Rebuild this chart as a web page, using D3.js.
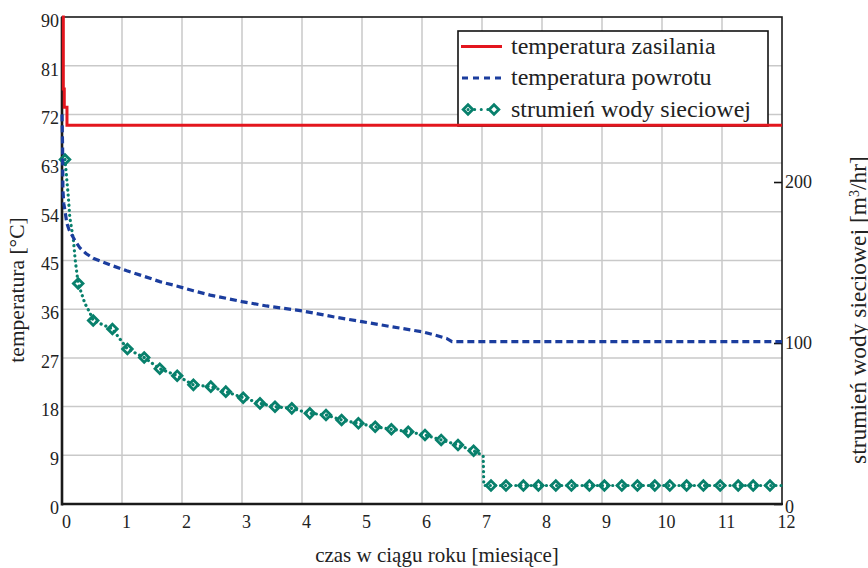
<!DOCTYPE html>
<html>
<head>
<meta charset="utf-8">
<script src="https://cdn.jsdelivr.net/npm/d3@7"></script>
<style>
  html, body { margin: 0; padding: 0; background: #ffffff; }
</style>
</head>
<body>
<svg id="chart" width="868" height="568"></svg>
<script>
// Months of the year (x axis) and the tick values of the three axes
const monthTicks = [0, 1, 2, 3, 4, 5, 6, 7, 8, 9, 10, 11, 12];
const tempTicks = [0, 9, 18, 27, 36, 45, 54, 63, 72, 81, 90];
const flowTicks = [0, 100, 200];

// Supply temperature [°C]
const supplyMonths = [0, 0.022, 0.022, 0.038, 0.038, 0.083, 0.083, 12];
const supplyTemp   = [90, 90, 76.7, 76.7, 73.3, 73.3, 70, 70];

// Return temperature [°C]
const returnMonths = [0, 0.01, 0.015, 0.03, 0.05, 0.08, 0.12, 0.16, 0.22, 0.3, 0.4, 0.52, 0.8,
  1.08, 1.36, 1.63, 1.91, 2.19, 2.47, 2.74, 3.0, 3.41, 4.0, 4.52, 5.0, 5.47, 6.02, 6.22, 6.41, 6.5, 12];
const returnTemp   = [72, 66, 58, 55.5, 54.2, 51.9, 50.6, 49.8, 48.6, 47.3, 46.3, 45.4, 44.2,
  43.1, 42.1, 41.1, 40.3, 39.4, 38.6, 38.0, 37.4, 36.6, 35.7, 34.6, 33.7, 32.8, 31.8, 31.2, 30.6, 30, 30];

// District-heating water flow [m3/hr] – the dotted line
const flowMonths = [0.05, 0.105, 0.13, 0.19, 0.22, 0.27, 0.38, 0.47, 0.52, 0.84, 1.09, 1.37, 1.63,
  1.92, 2.19, 2.48, 2.73, 3.02, 3.3, 3.55, 3.83, 4.13, 4.4, 4.66, 4.94, 5.22, 5.49, 5.77, 6.05,
  6.32, 6.6, 6.86, 7.02, 7.03, 12];
const flowRate   = [214, 191, 178, 164, 151.6, 137, 124.7, 118.4, 114, 108.7, 96.3, 91, 84,
  79.7, 74, 72.9, 69.8, 66, 62.5, 60.4, 59.4, 56.3, 55.3, 52.2, 50.1, 48, 46.4, 44.9, 42.9,
  39.8, 36.6, 33.1, 30, 11.5, 11.5];

// Flow values shown with diamond markers
const markerMonths = [0.05, 0.27, 0.52, 0.84, 1.09, 1.37, 1.63, 1.92, 2.19, 2.48, 2.73, 3.02, 3.3,
  3.55, 3.83, 4.13, 4.4, 4.66, 4.94, 5.22, 5.49, 5.77, 6.05, 6.32, 6.6, 6.86,
  7.15, 7.4, 7.69, 7.94, 8.23, 8.49, 8.79, 9.04, 9.33, 9.59, 9.88, 10.13, 10.41, 10.69,
  10.97, 11.27, 11.52, 11.8];
const markerRate   = [214, 137, 114, 108.7, 96.3, 91, 84, 79.7, 74, 72.9, 69.8, 66, 62.5,
  60.4, 59.4, 56.3, 55.3, 52.2, 50.1, 48, 46.4, 44.9, 42.9, 39.8, 36.6, 33.1,
  11.5, 11.5, 11.5, 11.5, 11.5, 11.5, 11.5, 11.5, 11.5, 11.5, 11.5, 11.5, 11.5, 11.5,
  11.5, 11.5, 11.5, 11.5];

const seriesNames = ["temperatura zasilania", "temperatura powrotu", "strumień wody sieciowej"];

const RED = "#e3161e", BLUE = "#1b3d9e", GREEN = "#08806c";
const FONT = "Liberation Serif";
const INK = "#222";

const svg = d3.select("#chart");
const plot = { left: 62, right: 782, top: 17, bottom: 504 };

const x = d3.scaleLinear().domain([0, 12]).range([plot.left, plot.right]);
const yT = d3.scaleLinear().domain([0, 90]).range([plot.bottom, plot.top]);
const yF = d3.scaleLinear().domain([0, 302.5]).range([plot.bottom, plot.top]);

// grid
const grid = svg.append("g").attr("stroke", "#c9c9c9").attr("stroke-width", 1.5);
grid.selectAll("line.v").data(monthTicks.slice(1, -1)).join("line")
  .attr("x1", d => x(d)).attr("x2", d => x(d))
  .attr("y1", plot.top).attr("y2", plot.bottom);
grid.selectAll("line.h").data(tempTicks.slice(1, -1)).join("line")
  .attr("x1", plot.left).attr("x2", plot.right)
  .attr("y1", d => yT(d)).attr("y2", d => yT(d));

// legend box (drawn under the series)
const lg = { x: 458, y: 31, w: 310, h: 95 };
svg.append("rect").attr("x", lg.x).attr("y", lg.y).attr("width", lg.w).attr("height", lg.h)
  .attr("fill", "#fff").attr("stroke", "#111").attr("stroke-width", 1.6);

// axes
const axL = svg.append("g").attr("transform", `translate(${plot.left},0)`)
  .call(d3.axisLeft(yT).tickValues(tempTicks).tickSize(0).tickPadding(3));
axL.selectAll("text").attr("dy", "0.52em");

const axB = svg.append("g").attr("transform", `translate(0,${plot.bottom})`)
  .call(d3.axisBottom(x).tickValues(monthTicks).tickSize(0).tickPadding(11));
axB.selectAll("text").attr("dx", 4);

const axR = svg.append("g").attr("transform", `translate(${plot.right},0)`)
  .call(d3.axisRight(yF).tickValues(flowTicks).tickSizeInner(-8).tickSizeOuter(0).tickPadding(3));
axR.selectAll("text").attr("dy", d => d === 0 ? "0.45em" : "0.32em");
axR.selectAll("line").attr("stroke", "#111").attr("stroke-width", 1.6);

[axL, axB, axR].forEach(a => {
  a.select(".domain").remove();
  a.attr("font-family", FONT).attr("font-size", 18);
  a.selectAll("text").attr("fill", INK);
});

// frame
svg.append("rect").attr("x", plot.left).attr("y", plot.top)
  .attr("width", plot.right - plot.left).attr("height", plot.bottom - plot.top)
  .attr("fill", "none").attr("stroke", "#1a1a1a").attr("stroke-width", 1.6);
svg.append("line").attr("x1", plot.left).attr("x2", plot.left)
  .attr("y1", plot.top).attr("y2", plot.bottom + 1.5).attr("stroke", "#1a1a1a").attr("stroke-width", 2.6);
svg.append("line").attr("x1", plot.left).attr("x2", plot.right + 1)
  .attr("y1", plot.bottom).attr("y2", plot.bottom).attr("stroke", "#1a1a1a").attr("stroke-width", 2.6);

// series
const tempLine = d3.line().x(d => x(d[0])).y(d => yT(d[1]));
const flowLine = d3.line().x(d => x(d[0])).y(d => yF(d[1]));

svg.append("path").datum(d3.zip(flowMonths, flowRate))
  .attr("d", flowLine).attr("fill", "none").attr("stroke", GREEN)
  .attr("stroke-width", 3.2).attr("stroke-linecap", "round").attr("stroke-dasharray", "0.1,5");

const diamond = d3.symbol().type(d3.symbolSquare).size(46);
svg.append("g").selectAll("path").data(d3.zip(markerMonths, markerRate)).join("path")
  .attr("d", diamond)
  .attr("transform", d => `translate(${x(d[0])},${yF(d[1])}) rotate(45)`)
  .attr("fill", "none").attr("stroke", GREEN).attr("stroke-width", 2.8);

svg.append("path").datum(d3.zip(returnMonths, returnTemp))
  .attr("d", tempLine).attr("fill", "none").attr("stroke", BLUE)
  .attr("stroke-width", 3.2).attr("stroke-dasharray", "7,4");

svg.append("path").datum(d3.zip(supplyMonths, supplyTemp))
  .attr("d", tempLine).attr("fill", "none").attr("stroke", RED)
  .attr("stroke-width", 3);

// legend entries
const rowY = [46.5, 78, 109.5];
const lgItems = svg.append("g");
lgItems.append("line").attr("x1", 461).attr("x2", 502).attr("y1", rowY[0]).attr("y2", rowY[0])
  .attr("stroke", RED).attr("stroke-width", 3);
lgItems.append("line").attr("x1", 462).attr("x2", 501).attr("y1", rowY[1]).attr("y2", rowY[1])
  .attr("stroke", BLUE).attr("stroke-width", 3).attr("stroke-dasharray", "6,5");
lgItems.append("line").attr("x1", 468).attr("x2", 494).attr("y1", rowY[2]).attr("y2", rowY[2])
  .attr("stroke", GREEN).attr("stroke-width", 3).attr("stroke-linecap", "round").attr("stroke-dasharray", "0.1,6.5");
[468, 494].forEach(cx => lgItems.append("path").attr("d", diamond)
  .attr("transform", `translate(${cx},${rowY[2]}) rotate(45)`)
  .attr("fill", "none").attr("stroke", GREEN).attr("stroke-width", 2.8));
lgItems.selectAll("text").data(seriesNames).join("text")
  .attr("x", 511).attr("y", (d, i) => rowY[i] + 7)
  .attr("font-family", FONT).attr("font-size", 24).attr("fill", INK).text(d => d);

// axis titles
svg.append("text").attr("x", 437).attr("y", 562).attr("text-anchor", "middle")
  .attr("font-family", FONT).attr("font-size", 21).attr("fill", INK)
  .text("czas w ciągu roku [miesiące]");
svg.append("text").attr("transform", "translate(24,290) rotate(-90)").attr("text-anchor", "middle")
  .attr("font-family", FONT).attr("font-size", 21.5).attr("fill", INK)
  .text("temperatura [°C]");
const rt = svg.append("text").attr("transform", "translate(866,310) rotate(-90)")
  .attr("text-anchor", "middle").attr("font-family", FONT).attr("font-size", 23.5).attr("fill", INK);
rt.append("tspan").text("strumień wody sieciowej [m");
rt.append("tspan").attr("baseline-shift", "super").attr("font-size", 14).text("3");
rt.append("tspan").text("/hr]");
</script>
</body>
</html>
